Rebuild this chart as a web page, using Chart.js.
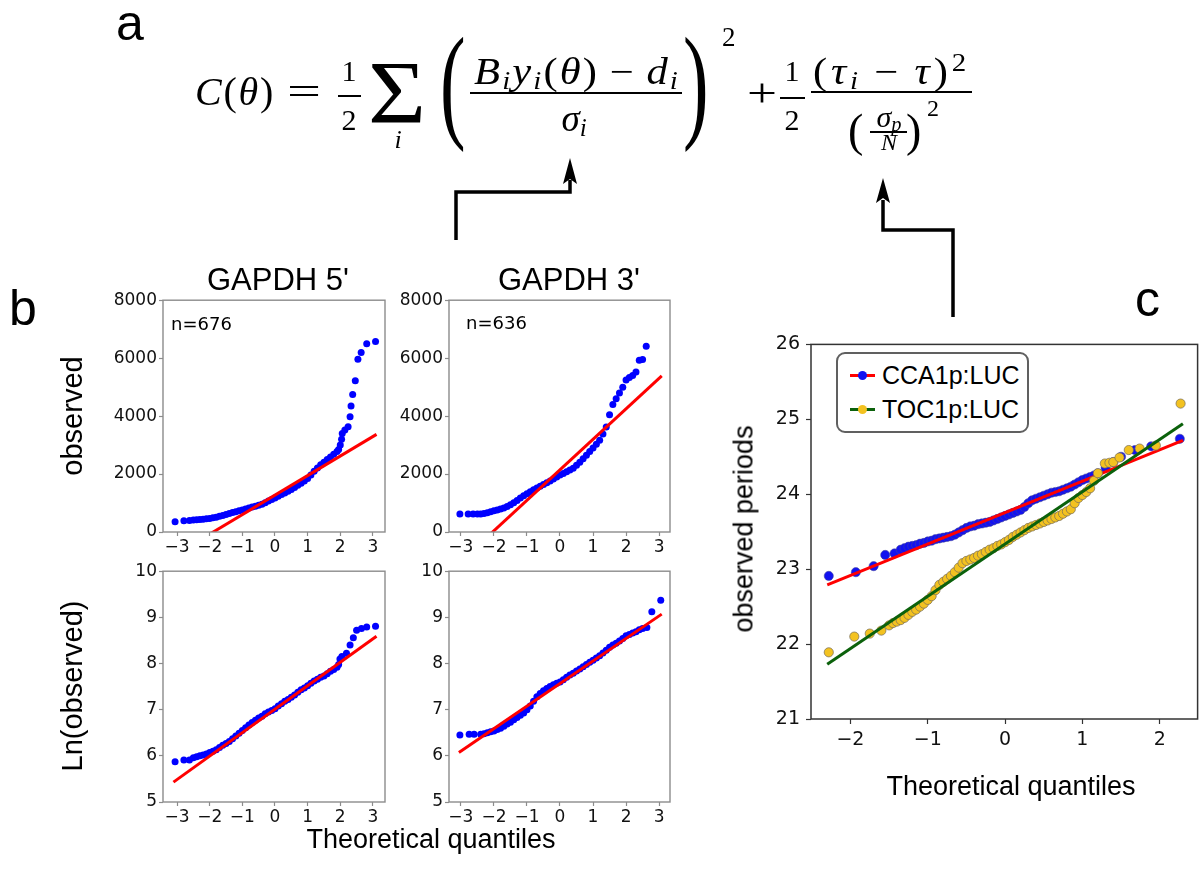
<!DOCTYPE html>
<html>
<head>
<meta charset="utf-8">
<script src="https://cdn.jsdelivr.net/npm/chart.js@4.4.0/dist/chart.umd.min.js"></script>
<style>
  html, body { margin: 0; padding: 0; background: #fff; }
  #page { position: relative; width: 1203px; height: 878px; overflow: hidden; }
  canvas { position: absolute; }
  .t { position: absolute; line-height: 1; white-space: nowrap; color: #000; }
  .sans { font-family: "Liberation Sans", Arial, sans-serif; }
  .dv { font-family: "DejaVu Sans", sans-serif; }
  .ser { font-family: "Liberation Serif", "DejaVu Serif", serif; }
  .sb { font-size: 0.68em; position: relative; top: 0.22em; }
  .sp { font-size: 0.68em; position: relative; top: -0.5em; }
  .rule { position: absolute; background: #000; }
</style>
</head>
<body>
<div id="page">
  <canvas id="gapdh5Raw"></canvas>
  <canvas id="gapdh3Raw"></canvas>
  <canvas id="gapdh5Ln"></canvas>
  <canvas id="gapdh3Ln"></canvas>
  <canvas id="periods"></canvas>
  <svg width="1203" height="878" style="position:absolute;left:0;top:0">
    <polyline points="456,240 456,192 570,192 570,180" fill="none" stroke="#000" stroke-width="3.5"/>
    <polygon points="570,158 563,184 570,179 577,184" fill="#000"/>
    <polyline points="953,317 953,230 883,230 883,200" fill="none" stroke="#000" stroke-width="3.5"/>
    <polygon points="883,178 876,203 883,198 890,203" fill="#000"/>
  </svg>
</div>
<script>
// =======================
// 1. Data
// =======================
const quantileTicksB = [-3, -2, -1, 0, 1, 2, 3];
const observedTicks = [0, 2000, 4000, 6000, 8000];
const lnTicks = [5, 6, 7, 8, 9, 10];
const quantileTicksC = [-2, -1, 0, 1, 2];
const periodTicks = [21, 22, 23, 24, 25, 26];

const panelTitles = ["GAPDH 5'", "GAPDH 3'"];
const sampleCounts = ["n=676", "n=636"];
const legendLabels = ["CCA1p:LUC", "TOC1p:LUC"];

// GAPDH 5', observed counts
const gapdh5Quantiles = [-3.06, -2.79, -2.62,
  -2.5, -2.4, -2.3, -2.2, -2.1, -2.0, -1.9, -1.8, -1.7, -1.6,
  -1.5, -1.4, -1.3, -1.2, -1.1, -1.0, -0.9, -0.8, -0.7, -0.6,
  -0.5, -0.4, -0.3, -0.2, -0.1, 0.0, 0.1, 0.2, 0.3, 0.4,
  0.5, 0.6, 0.7, 0.8, 0.9, 1.0, 1.1, 1.2, 1.3, 1.4,
  1.5, 1.6, 1.7, 1.8, 1.9,
  1.95, 2.0, 2.04, 2.06, 2.14, 2.24, 2.30, 2.33, 2.38, 2.46, 2.54, 2.64, 2.81, 3.08];
const gapdh5Observed = [350, 390, 400,
  410, 420, 430, 440, 455, 470, 490, 510, 540, 570,
  605, 640, 670, 700, 730, 760, 795, 830, 860, 890,
  925, 960, 1010, 1070, 1120, 1170, 1230, 1290, 1350, 1410,
  1470, 1540, 1610, 1680, 1760, 1850, 1970, 2100, 2210, 2320,
  2410, 2500, 2590, 2680, 2780,
  2850, 3000, 3200, 3400, 3520, 3630, 3980, 4345, 4745, 5220, 5965, 6195, 6495, 6575];
const gapdh5FitQuantiles = [-3.1, 3.11];
const gapdh5FitObserved = [-815, 3370];

// GAPDH 3', observed counts
const gapdh3Quantiles = [-3.03, -2.78, -2.63,
  -2.5, -2.4, -2.3, -2.2, -2.1, -2.0, -1.9, -1.8, -1.7, -1.6,
  -1.5, -1.4, -1.3, -1.2, -1.1, -1.0, -0.9, -0.8, -0.7, -0.6,
  -0.5, -0.4, -0.3, -0.2, -0.1, 0.0, 0.1, 0.2, 0.3, 0.4,
  0.5, 0.6, 0.7, 0.8, 0.9, 1.0, 1.1, 1.2, 1.3, 1.4,
  1.5, 1.6, 1.7, 1.8, 1.9, 2.0,
  2.1, 2.2, 2.3, 2.4, 2.5, 2.61];
const gapdh3Observed = [620, 620, 620,
  620, 625, 640, 665, 700, 730, 760, 790, 830, 880,
  940, 1010, 1090, 1170, 1250, 1320, 1390, 1460, 1520, 1580,
  1640, 1700, 1760, 1830, 1900, 1965, 2020, 2080, 2140, 2200,
  2300, 2410, 2530, 2650, 2780, 2900, 3030, 3170, 3380, 3620,
  4050, 4400, 4600, 4800, 5000, 5250,
  5330, 5400, 5520, 5930, 5950, 6415];
const gapdh3FitQuantiles = [-3.06, 3.08];
const gapdh3FitObserved = [-1074, 5391];

// GAPDH 5', ln(observed)
const gapdh5LnQuantiles = [-3.06, -2.79, -2.62,
  -2.5, -2.4, -2.3, -2.2, -2.1, -2.0, -1.9, -1.8, -1.7, -1.6,
  -1.5, -1.4, -1.3, -1.2, -1.1, -1.0, -0.9, -0.8, -0.7, -0.6,
  -0.5, -0.4, -0.3, -0.2, -0.1, 0.0, 0.1, 0.2, 0.3, 0.4,
  0.5, 0.6, 0.7, 0.8, 0.9, 1.0, 1.1, 1.2, 1.3, 1.4,
  1.5, 1.6, 1.7, 1.8, 1.9,
  1.95, 1.99, 2.05, 2.19, 2.30, 2.40, 2.50, 2.65, 2.81, 3.08];
const gapdh5LnObserved = [5.87, 5.91, 5.91,
  5.96, 5.98, 6.00, 6.02, 6.04, 6.07, 6.10, 6.13, 6.18, 6.23,
  6.27, 6.31, 6.37, 6.43, 6.49, 6.55, 6.61, 6.67, 6.72, 6.77,
  6.82, 6.86, 6.91, 6.95, 6.98, 7.02, 7.08, 7.13, 7.18, 7.22,
  7.27, 7.32, 7.38, 7.43, 7.47, 7.52, 7.57, 7.62, 7.66, 7.70,
  7.73, 7.78, 7.83, 7.87, 7.92,
  7.98, 8.10, 8.15, 8.22, 8.40, 8.56, 8.72, 8.76, 8.79, 8.81];
const gapdh5LnFitQuantiles = [-3.11, 3.11];
const gapdh5LnFitObserved = [5.43, 8.59];

// GAPDH 3', ln(observed)
const gapdh3LnQuantiles = [-3.03, -2.75, -2.6,
  -2.4, -2.3, -2.2, -2.1, -2.0, -1.9, -1.8, -1.7, -1.6,
  -1.5, -1.4, -1.3, -1.2, -1.1, -1.0, -0.9, -0.8, -0.7, -0.6,
  -0.5, -0.4, -0.3, -0.2, -0.1, 0.0, 0.1, 0.2, 0.3, 0.4,
  0.5, 0.6, 0.7, 0.8, 0.9, 1.0, 1.1, 1.2, 1.3, 1.4,
  1.5, 1.6, 1.7, 1.8, 1.9, 2.0, 2.1, 2.2, 2.3, 2.4, 2.5,
  2.63, 2.78, 3.05];
const gapdh3LnObserved = [6.45, 6.47, 6.47,
  6.47, 6.48, 6.50, 6.52, 6.54, 6.57, 6.60, 6.64, 6.69,
  6.73, 6.78, 6.83, 6.88, 6.93, 7.00, 7.08, 7.18, 7.28, 7.35,
  7.41, 7.46, 7.50, 7.54, 7.57, 7.60, 7.65, 7.70, 7.75, 7.79,
  7.84, 7.88, 7.93, 7.98, 8.03, 8.07, 8.12, 8.17, 8.23, 8.29,
  8.35, 8.40, 8.44, 8.49, 8.54, 8.60, 8.63, 8.66, 8.69, 8.73, 8.76,
  8.78, 9.12, 9.37];
const gapdh3LnFitQuantiles = [-3.06, 3.08];
const gapdh3LnFitObserved = [6.07, 9.07];

// panel c, CCA1p:LUC periods
const cca1Quantiles = [-2.28, -1.93, -1.70, -1.55, -1.43,
  -1.35, -1.30, -1.25, -1.20, -1.15, -1.10, -1.05, -1.00, -0.95, -0.90, -0.85, -0.80, -0.75, -0.70,
  -0.65, -0.60, -0.55, -0.50, -0.45, -0.40, -0.35, -0.30, -0.25, -0.20, -0.15, -0.10, -0.05, 0.00,
  0.05, 0.10, 0.15, 0.20, 0.25, 0.30, 0.35, 0.40, 0.45, 0.50, 0.55, 0.60, 0.65, 0.70,
  0.75, 0.80, 0.85, 0.90, 0.95, 1.00, 1.05, 1.10, 1.15, 1.20,
  1.30, 1.40, 1.50, 1.68, 1.89, 2.26];
const cca1Periods = [22.91, 22.96, 23.04, 23.19, 23.21,
  23.26, 23.28, 23.30, 23.31, 23.32, 23.34, 23.35, 23.37, 23.38, 23.40, 23.41, 23.42, 23.43, 23.44,
  23.46, 23.49, 23.52, 23.55, 23.57, 23.58, 23.60, 23.61, 23.62, 23.63, 23.65, 23.67, 23.69, 23.71,
  23.73, 23.75, 23.77, 23.79, 23.83, 23.88, 23.92, 23.94, 23.96, 23.98, 24.00, 24.02, 24.03, 24.04,
  24.06, 24.08, 24.10, 24.13, 24.16, 24.19, 24.21, 24.23, 24.25, 24.28,
  24.35, 24.43, 24.50, 24.59, 24.64, 24.74];
const cca1FitQuantiles = [-2.30, 2.30];
const cca1FitPeriods = [22.79, 24.72];

// panel c, TOC1p:LUC periods
const toc1Quantiles = [-2.28, -1.95, -1.75, -1.60,
  -1.50, -1.45, -1.40, -1.35, -1.30, -1.25, -1.20, -1.15, -1.10, -1.05, -1.00, -0.95, -0.90, -0.85,
  -0.80, -0.75, -0.70, -0.65, -0.60, -0.55, -0.50, -0.45, -0.40, -0.35, -0.30, -0.25, -0.20, -0.15,
  -0.10, -0.05, 0.00, 0.05, 0.10, 0.15, 0.20, 0.25, 0.30, 0.35, 0.40, 0.45, 0.50, 0.55,
  0.60, 0.65, 0.70, 0.75, 0.80, 0.85, 0.90, 0.95, 1.00, 1.05, 1.10, 1.15, 1.20,
  1.29, 1.35, 1.40, 1.48, 1.60, 1.74, 1.95, 2.27];
const toc1Periods = [21.89, 22.10, 22.14, 22.18,
  22.25, 22.28, 22.30, 22.32, 22.35, 22.39, 22.43, 22.46, 22.50, 22.54, 22.59, 22.64, 22.72, 22.79,
  22.83, 22.87, 22.91, 22.96, 23.02, 23.08, 23.11, 23.13, 23.15, 23.18, 23.20, 23.23, 23.26, 23.28,
  23.31, 23.33, 23.36, 23.39, 23.43, 23.46, 23.49, 23.52, 23.55, 23.57, 23.59, 23.61, 23.63, 23.65,
  23.67, 23.69, 23.71, 23.74, 23.77, 23.80, 23.88, 23.95, 23.99, 24.03, 24.08, 24.18, 24.28,
  24.41, 24.42, 24.43, 24.49, 24.59, 24.61, 24.65, 25.21];
const toc1FitQuantiles = [-2.30, 2.30];
const toc1FitPeriods = [21.73, 24.94];

// =======================
// 2. Helpers
// =======================
const page = document.getElementById("page");

function toPoints(xs, ys) {
  return xs.map((x, i) => ({ x: x, y: ys[i] }));
}

function minusLabel(v) {
  return v < 0 ? "\u2212" + Math.abs(v) : String(v);
}

// box around the plotting area, like matplotlib spines
const framePlugin = {
  id: "frame",
  afterDraw(chart, args, opts) {
    const { ctx, chartArea: a } = chart;
    ctx.save();
    ctx.strokeStyle = opts.color;
    ctx.lineWidth = opts.width;
    ctx.strokeRect(a.left, a.top, a.right - a.left, a.bottom - a.top);
    ctx.restore();
  },
};

function axis(min, max, ticks, st, isX) {
  return {
    type: "linear",
    min: min,
    max: max,
    afterFit: (s) => {
      if (isX) s.height = st.xH;
      else s.width = st.yW;
    },
    afterBuildTicks: (s) => {
      s.ticks = ticks.map((v) => ({ value: v }));
    },
    grid: {
      drawOnChartArea: false,
      drawTicks: true,
      tickLength: st.tickLength,
      tickColor: st.frameColor,
      tickWidth: 1.2,
    },
    border: { display: false },
    ticks: {
      autoSkip: false,
      maxRotation: 0,
      minRotation: 0,
      padding: isX ? st.xPad : st.yPad,
      color: "#111",
      font: { family: "DejaVu Sans", size: st.fontSize },
      callback: minusLabel,
    },
  };
}

function makePlot(id, area, range, datasets, st) {
  const padT = 12;
  const canvas = document.getElementById(id);
  canvas.width = st.yW + area.w + st.padR;
  canvas.height = padT + area.h + st.xH;
  canvas.style.left = area.left - st.yW + "px";
  canvas.style.top = area.top - padT + "px";

  return new Chart(canvas, {
    type: "scatter",
    data: { datasets: datasets },
    options: {
      responsive: false,
      animation: false,
      devicePixelRatio: 1,
      layout: { padding: { top: padT, right: st.padR, left: 0, bottom: 0 } },
      plugins: {
        legend: { display: false },
        tooltip: { enabled: false },
        frame: { color: st.frameColor, width: st.frameWidth },
      },
      scales: {
        x: axis(range.xMin, range.xMax, range.xTicks, st, true),
        y: axis(range.yMin, range.yMax, range.yTicks, st, false),
      },
    },
    plugins: [framePlugin],
  });
}

function fitLine(xs, ys, color, order) {
  return {
    data: toPoints(xs, ys),
    showLine: true,
    borderColor: color,
    borderWidth: 3,
    pointRadius: 0,
    pointHoverRadius: 0,
    clip: 0,
    order: order,
  };
}

function dots(xs, ys, fill, edge, edgeW, r, order) {
  return {
    data: toPoints(xs, ys),
    backgroundColor: fill,
    borderColor: edge,
    borderWidth: edgeW,
    pointRadius: r,
    pointHoverRadius: r,
    order: order,
  };
}

// text placed by its baseline
function put(html, cls, size, x, base, opt = {}) {
  const el = document.createElement("span");
  el.className = "t " + cls;
  el.style.fontSize = size + "px";
  el.innerHTML = html;
  el.style.top = base - 0.84 * size + "px";
  page.appendChild(el);
  let w = el.getBoundingClientRect().width;
  let sx = opt.sx || 1;
  if (opt.spread) {
    // part letter spacing, part horizontal stretch (math fonts are wider)
    const stretch = opt.stretch || 1;
    const n = el.textContent.length;
    el.style.letterSpacing = Math.max(0, (opt.spread / stretch - w) / n) + "px";
    w = el.getBoundingClientRect().width;
    sx = opt.spread / w;
  }
  if (opt.width) sx = opt.width / w;
  const shown = w * sx;
  let left = x;
  if (opt.align === "center") left = x - shown / 2;
  if (opt.align === "right") left = x - shown;
  el.style.left = left + "px";
  if (sx !== 1) {
    el.style.transformOrigin = "0 0";
    el.style.transform = "scaleX(" + sx + ")";
  }
  return el;
}

// vertical label, baselineX = where the baseline ends up
function putVertical(text, size, baselineX, cy) {
  const el = document.createElement("span");
  el.className = "t sans";
  el.style.fontSize = size + "px";
  el.textContent = text;
  el.style.left = baselineX - 0.34 * size + "px";
  el.style.top = cy + "px";
  el.style.transform = "translate(-50%, -50%) rotate(-90deg)";
  page.appendChild(el);
}

function rule(x1, x2, y, th) {
  const d = document.createElement("div");
  d.className = "rule";
  d.style.left = x1 + "px";
  d.style.width = x2 - x1 + "px";
  d.style.top = y - th / 2 + "px";
  d.style.height = th + "px";
  page.appendChild(d);
}

// =======================
// 3. Panel b (four QQ plots)
// =======================
const styleB = {
  yW: 60, xH: 28, padR: 8, tickLength: 4, yPad: 2, xPad: 1,
  fontSize: 17, frameColor: "#8c8c8c", frameWidth: 1.4,
};
const blue = "#0000ff";
const red = "#ff0000";

makePlot("gapdh5Raw", { left: 163, top: 300, w: 222, h: 232 },
  { xMin: -3.43, xMax: 3.37, yMin: 0, yMax: 8000, xTicks: quantileTicksB, yTicks: observedTicks },
  [fitLine(gapdh5FitQuantiles, gapdh5FitObserved, red, 0),
   dots(gapdh5Quantiles, gapdh5Observed, blue, blue, 0, 3.5, 1)], styleB);

makePlot("gapdh3Raw", { left: 449, top: 300, w: 221, h: 232 },
  { xMin: -3.36, xMax: 3.33, yMin: 0, yMax: 8000, xTicks: quantileTicksB, yTicks: observedTicks },
  [fitLine(gapdh3FitQuantiles, gapdh3FitObserved, red, 0),
   dots(gapdh3Quantiles, gapdh3Observed, blue, blue, 0, 3.5, 1)], styleB);

makePlot("gapdh5Ln", { left: 163, top: 571, w: 222, h: 231 },
  { xMin: -3.43, xMax: 3.37, yMin: 5, yMax: 10, xTicks: quantileTicksB, yTicks: lnTicks },
  [fitLine(gapdh5LnFitQuantiles, gapdh5LnFitObserved, red, 0),
   dots(gapdh5LnQuantiles, gapdh5LnObserved, blue, blue, 0, 3.5, 1)], styleB);

makePlot("gapdh3Ln", { left: 449, top: 571, w: 221, h: 231 },
  { xMin: -3.36, xMax: 3.33, yMin: 5, yMax: 10, xTicks: quantileTicksB, yTicks: lnTicks },
  [fitLine(gapdh3LnFitQuantiles, gapdh3LnFitObserved, red, 0),
   dots(gapdh3LnQuantiles, gapdh3LnObserved, blue, blue, 0, 3.5, 1)], styleB);

// =======================
// 4. Panel c (periods)
// =======================
const styleC = {
  yW: 45, xH: 40, padR: 3, tickLength: 5, yPad: 6, xPad: 5,
  fontSize: 19, frameColor: "#333", frameWidth: 1.5,
};
const green = "#0b610b";
const gold = "#f3c220";

makePlot("periods", { left: 811, top: 339, w: 389, h: 380 },
  { xMin: -2.51, xMax: 2.49, yMin: 21, yMax: 26, xTicks: quantileTicksC, yTicks: periodTicks },
  [fitLine(toc1FitQuantiles, toc1FitPeriods, green, 0),
   dots(toc1Quantiles, toc1Periods, gold, "rgba(120,110,90,0.9)", 0.8, 4.6, 1),
   fitLine(cca1FitQuantiles, cca1FitPeriods, red, 2),
   dots(cca1Quantiles, cca1Periods, "#1212f0", "rgba(70,70,150,0.9)", 0.6, 4.6, 3)], styleC);

// legend box
const legendBox = document.createElement("div");
Object.assign(legendBox.style, {
  position: "absolute", left: "836px", top: "352px", width: "193px", height: "81px",
  border: "2.4px solid #606060", borderRadius: "9px", boxSizing: "border-box", background: "#fff",
});
page.appendChild(legendBox);
[[375, 384, red, "#1212f0"], [409, 418, green, gold]].forEach(([ly, base, lc, mc], i) => {
  const ln = document.createElement("div");
  Object.assign(ln.style, {
    position: "absolute", left: "850px", top: ly - 1.5 + "px", width: "25px", height: "3px", background: lc,
  });
  page.appendChild(ln);
  const dot = document.createElement("div");
  Object.assign(dot.style, {
    position: "absolute", left: "858px", top: ly - 4.5 + "px", width: "9px", height: "9px",
    borderRadius: "50%", background: mc,
  });
  page.appendChild(dot);
  put(legendLabels[i], "sans", 25, 882, base);
});

// =======================
// 5. Labels and the cost function
// =======================
put("a", "sans", 50, 116, 40);
put("b", "sans", 50, 9, 325);
put("c", "sans", 50, 1135, 316);

put(panelTitles[0], "sans", 31, 207, 290);
put(panelTitles[1], "sans", 31, 498, 290);
put(sampleCounts[0], "dv", 18, 171, 330);
put(sampleCounts[1], "dv", 18, 466, 329);

putVertical("observed", 29, 82, 416);
putVertical("Ln(observed)", 29, 82, 686);
put("Theoretical quantiles", "sans", 27, 431, 849, { align: "center" });

putVertical("observed periods", 27, 753, 529);
put("Theoretical quantiles", "sans", 27, 1011, 796, { align: "center" });

const sub = (s) => "<span class='sb'><i>" + s + "</i></span>";
put("<i>C</i>(<i>θ</i>)", "ser", 40, 195, 106, { spread: 80 });
put("=", "ser", 40, 287, 106, { width: 34 });
put("1", "ser", 30, 349, 81, { align: "center" });
rule(338, 361, 96, 1.6);
put("2", "ser", 30, 349, 130, { align: "center" });
put("Σ", "ser", 88, 368, 123, { width: 58 });
put("<i>i</i>", "ser", 26, 398, 149, { align: "center" });
put("(", "ser", 128, 440, 126, { sx: 0.6 });
put("<i>B</i>" + sub("i") + "<i>y</i>" + sub("i") + "(<i>θ</i>)&thinsp;−&thinsp;<i>d</i>" + sub("i"),
  "ser", 37, 474, 84, { spread: 206, stretch: 1.15 });
rule(470, 682, 93, 2);
put("<i>σ</i>" + sub("i"), "ser", 37, 574, 131, { align: "center" });
put(")", "ser", 128, 683, 126, { sx: 0.6 });
put("2", "ser", 27, 722, 47);
put("+", "ser", 40, 747, 107, { width: 30 });
put("1", "ser", 30, 792, 81, { align: "center" });
rule(780, 805, 98, 1.6);
put("2", "ser", 30, 792, 130, { align: "center" });
put("(<i>τ</i>" + sub("i") + "&thinsp;−&thinsp;<i>τ</i>)<span class='sp'>2</span>", "ser", 37, 813, 84,
  { spread: 157, stretch: 1.15 });
rule(811, 972, 92, 2);
put("(", "ser", 46, 848, 147);
put("<i>σ</i>" + sub("p"), "ser", 30, 889, 127, { align: "center" });
rule(870, 907, 132, 1.4);
put("<i>N</i>", "ser", 24, 889, 150, { align: "center" });
put(")", "ser", 46, 906, 147);
put("2", "ser", 24, 927, 116);
</script>
</body>
</html>
